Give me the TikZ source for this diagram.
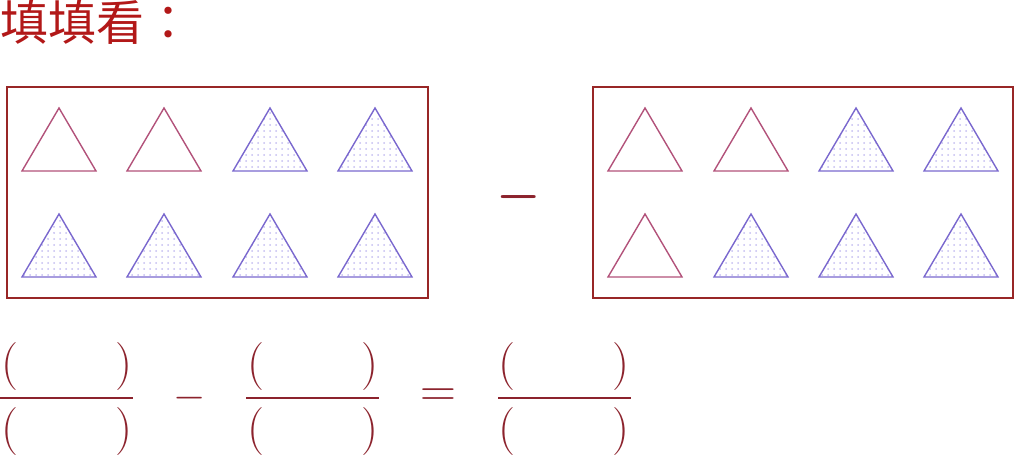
\documentclass[tikz,border=0pt]{standalone}
\usepackage{fontspec}
\newfontfamily\cjk{Noto Sans CJK TC}
\usepackage{tikz}
\usetikzlibrary{patterns}
\definecolor{titlered}{RGB}{178,24,24}
\definecolor{boxred}{RGB}{152,38,38}
\definecolor{parred}{RGB}{140,35,45}
\definecolor{triempty}{RGB}{178,82,122}
\definecolor{trifull}{RGB}{122,104,206}
\definecolor{tridots}{RGB}{196,190,240}
\tikzset{>=latex}
\tikzset{
  tri/.style={draw=triempty, line width=0.7pt},
  tridot/.style={draw=trifull, line width=0.7pt, pattern=dots, pattern color=tridots},
  paren/.style={text=parred, font=\fontsize{24}{24}\selectfont, inner sep=0pt, anchor=base},
  opsign/.style={text=parred, font=\fontsize{24}{24}\selectfont, inner sep=0pt},
}

\begin{document}
\begin{tikzpicture}[x=0.5pt,y=-0.5pt]
      \useasboundingbox (0,0) rectangle (1015,455);
      \node[anchor=base west, inner sep=0pt, text=titlered, font=\cjk\fontsize{24}{24}\selectfont] (title) at (0,40) {填填看：};
      % left box
      \draw[boxred, line width=1pt] (7,87) rectangle (428,298);
      \draw[tri] (59,108) -- (96,171) -- (22,171) -- cycle;
      \draw[tri] (164,108) -- (201,171) -- (127,171) -- cycle;
      \draw[tridot] (270,108) -- (307,171) -- (233,171) -- cycle;
      \draw[tridot] (375,108) -- (412,171) -- (338,171) -- cycle;
      \draw[tridot] (59,214) -- (96,277) -- (22,277) -- cycle;
      \draw[tridot] (164,214) -- (201,277) -- (127,277) -- cycle;
      \draw[tridot] (270,214) -- (307,277) -- (233,277) -- cycle;
      \draw[tridot] (375,214) -- (412,277) -- (338,277) -- cycle;
      % right box
      \draw[boxred, line width=1pt] (593,87) rectangle (1013,298);
      \draw[tri] (645,108) -- (682,171) -- (608,171) -- cycle;
      \draw[tri] (751,108) -- (788,171) -- (714,171) -- cycle;
      \draw[tridot] (856,108) -- (893,171) -- (819,171) -- cycle;
      \draw[tridot] (961,108) -- (998,171) -- (924,171) -- cycle;
      \draw[tri] (645,214) -- (682,277) -- (608,277) -- cycle;
      \draw[tridot] (751,214) -- (788,277) -- (714,277) -- cycle;
      \draw[tridot] (856,214) -- (893,277) -- (819,277) -- cycle;
      \draw[tridot] (961,214) -- (998,277) -- (924,277) -- cycle;
      \node[opsign, font=\fontsize{26}{26}\selectfont\boldmath] (minusA) at (519,197) {$-$};
      % fractions
      \draw[parred, line width=1.2pt] (0,398) -- (133,398);
      \node[paren] (pA1) at (10,378) {(};
      \node[paren] (pA2) at (124,378) {)};
      \node[paren] (pA3) at (10,443) {(};
      \node[paren] (pA4) at (124,443) {)};
      \node[opsign, font=\fontsize{22}{22}\selectfont] (minusB) at (190,398) {$-$};
      \draw[parred, line width=1.2pt] (246,398) -- (379,398);
      \node[paren] (pB1) at (256,378) {(};
      \node[paren] (pB2) at (370,378) {)};
      \node[paren] (pB3) at (256,443) {(};
      \node[paren] (pB4) at (370,443) {)};
      \node[opsign] (equal) at (438,398) {$=$};
      \draw[parred, line width=1.2pt] (498,398) -- (631,398);
      \node[paren] (pC1) at (507,378) {(};
      \node[paren] (pC2) at (621,378) {)};
      \node[paren] (pC3) at (507,443) {(};
      \node[paren] (pC4) at (621,443) {)};
\end{tikzpicture}
\end{document}
